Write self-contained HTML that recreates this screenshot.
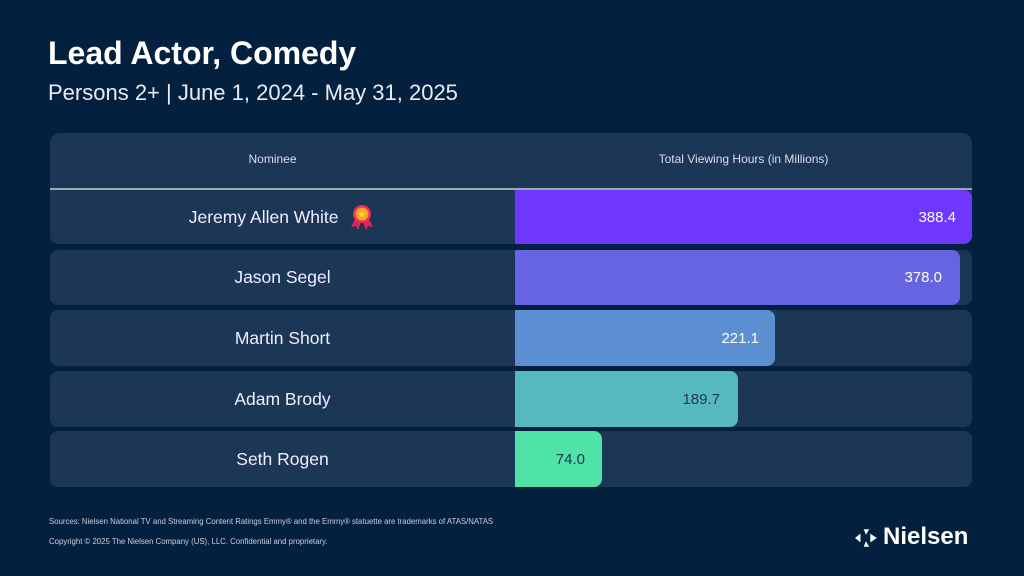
<!DOCTYPE html>
<html><head><style>
body{margin:0;width:1024px;height:576px;background:#03213f;font-family:"Liberation Sans",sans-serif;position:relative;overflow:hidden;color:#fff}
.a{position:absolute}
.row{position:absolute;left:50px;width:922px;background:#1c3655;border-radius:8px;overflow:hidden}
.name{position:absolute;left:0;width:465px;top:0;bottom:0;display:flex;align-items:center;justify-content:center;font-size:17.5px;color:#eef}
.bar{position:absolute;left:465px;top:0;bottom:0;border-radius:0 8px 8px 0;}
.val{position:absolute;right:16px;top:0;bottom:0;display:flex;align-items:center;font-size:15px}
</style></head><body>
<div class="a" style="left:48px;top:35px;font-size:32px;font-weight:bold;letter-spacing:0px">Lead Actor, Comedy</div>
<div class="a" style="left:48px;top:80px;font-size:22px;color:#e8ecf2">Persons 2+ | June 1, 2024 - May 31, 2025</div>
<div class="a" style="left:50px;top:133px;width:922px;height:55px;background:#1c3655;border-radius:10px 10px 0 0;border-bottom:2px solid #9aa8b6"></div>
<div class="a" style="left:50px;top:152px;width:445px;text-align:center;font-size:12px;color:#dde">Nominee</div>
<div class="a" style="left:515px;top:152px;width:527px;margin-left:-35px;text-align:center;font-size:12px;color:#dde">Total Viewing Hours (in Millions)</div>

<div class="row" style="top:190px;height:54px;border-radius:0 0 8px 8px"><div class="name">Jeremy Allen White&nbsp;&nbsp;<svg width="28" height="28" viewBox="0 0 28 28"><path d="M7 16 L3 24 L8 23 L10 27 L13 19Z M21 16 L25 24 L20 23 L18 27 L15 19Z" fill="#e8205a"/><circle cx="14" cy="11" r="9" fill="#ee3060"/><circle cx="14" cy="11" r="6.5" fill="#f9a21b"/><polygon points="14,7 15.2,10 18,10 15.8,12 16.6,15 14,13.2 11.4,15 12.2,12 10,10 12.8,10" fill="#ffd23f"/></svg></div>
<div class="bar" style="width:457px;background:#6e37fb"><div class="val">388.4</div></div></div>

<div class="row" style="top:250px;height:55px"><div class="name">Jason Segel</div>
<div class="bar" style="width:445px;background:#6664e3"><div class="val" style="right:18px">378.0</div></div></div>

<div class="row" style="top:310px;height:56px"><div class="name">Martin Short</div>
<div class="bar" style="width:260px;background:#5b8fd2"><div class="val" style="right:16px">221.1</div></div></div>

<div class="row" style="top:371px;height:56px"><div class="name">Adam Brody</div>
<div class="bar" style="width:223px;background:#56b9bf"><div class="val" style="right:18px;color:#1c3655">189.7</div></div></div>

<div class="row" style="top:431px;height:56px"><div class="name">Seth Rogen</div>
<div class="bar" style="width:87px;background:#4fe3a8"><div class="val" style="right:17px;color:#1c3655">74.0</div></div></div>

<div class="a" style="left:49px;top:517px;font-size:7.8px;color:#ccd">Sources: Nielsen National TV and Streaming Content Ratings Emmy® and the Emmy® statuette are trademarks of ATAS/NATAS</div>
<div class="a" style="left:49px;top:537px;font-size:7.8px;color:#ccd">Copyright © 2025 The Nielsen Company (US), LLC. Confidential and proprietary.</div>
<div class="a" style="left:855px;top:529px;"><svg width="24" height="18" viewBox="0 0 22 16"><polygon points="0,8 5,4 5,12" fill="#fff"/><polygon points="8,0 13,0 10,5" fill="#fff"/><polygon points="8,16 13,16 10,11" fill="#fff"/><polygon points="14,4 20,8 14,12" fill="#fff"/></svg></div>
<div class="a" style="left:883px;top:523px;font-size:24px;font-weight:bold;letter-spacing:0px">Nielsen</div>
</body></html>
